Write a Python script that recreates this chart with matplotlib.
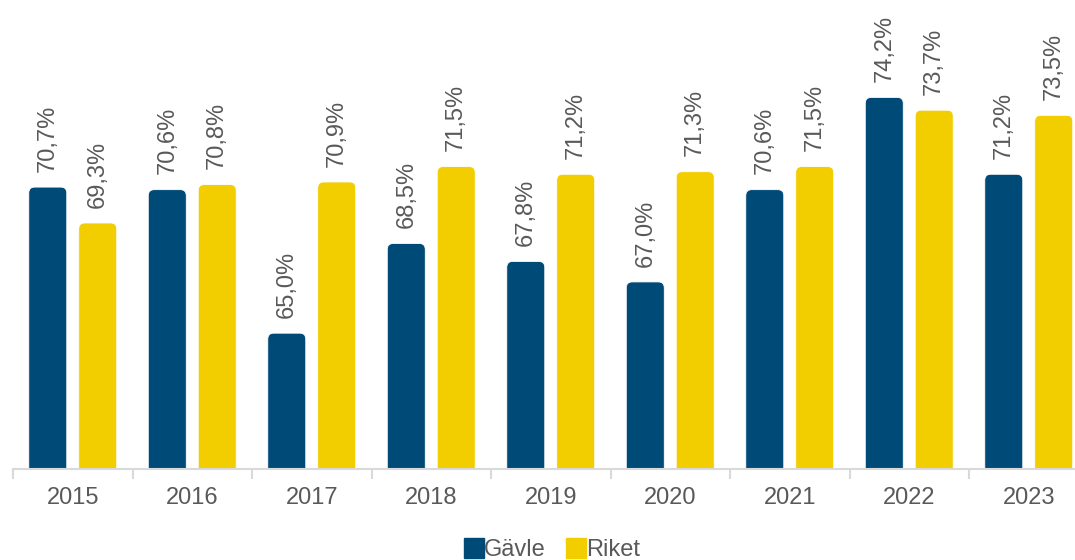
import matplotlib.pyplot as plt
import numpy as np
from matplotlib.patches import FancyBboxPatch
from matplotlib.lines import Line2D

plt.rcParams["font.family"] = ["Liberation Sans", "DejaVu Sans"]

years = ["2015", "2016", "2017", "2018", "2019", "2020", "2021", "2022", "2023"]
gavle = [70.7, 70.6, 65.0, 68.5, 67.8, 67.0, 70.6, 74.2, 71.2]
riket = [69.3, 70.8, 70.9, 71.5, 71.2, 71.3, 71.5, 73.7, 73.5]
series_names = ["Gävle", "Riket"]

BLUE = "#004a77"
YELLOW = "#f2cd00"
TEXT = "#595959"
AXIS = "#d9d9d9"

Y_MIN, Y_MAX = 59.7, 78.0

fig = plt.figure(figsize=(10.75, 5.6), dpi=100)
ax = fig.add_axes([13 / 1075, 91 / 560, 1075.5 / 1075, 469 / 560])

x = np.arange(len(years))
width = 0.318
offset = 0.209

# px per data unit, used to keep the corner rounding circular
px_x = 1075.5 / 9.0
px_y = 469 / (Y_MAX - Y_MIN)
aspect = px_x / px_y


def rounded_bars(xs, values, color):
    for xc, v in zip(xs, values):
        bottom = Y_MIN - 1.0
        patch = FancyBboxPatch(
            (xc - width / 2, bottom), width, v - bottom,
            boxstyle="round,pad=0,rounding_size=0.05",
            mutation_aspect=aspect,
            facecolor=color, edgecolor="white", linewidth=0.6,
            clip_on=True, zorder=2,
        )
        ax.add_patch(patch)
        ax.text(xc, v + 0.6, f"{v:.1f}%".replace(".", ","),
                rotation=90, ha="center", va="bottom",
                fontsize=17, color=TEXT, zorder=3)


rounded_bars(x - offset, gavle, BLUE)
rounded_bars(x + offset, riket, YELLOW)

ax.set_xlim(-0.5, len(years) - 0.5)
ax.set_ylim(Y_MIN, Y_MAX)

for side in ["top", "right", "left"]:
    ax.spines[side].set_visible(False)
ax.spines["bottom"].set_color(AXIS)
ax.spines["bottom"].set_linewidth(1.5)
ax.spines["bottom"].set_zorder(4)

ax.set_yticks([])
ax.set_xticks(x)
ax.set_xticklabels(years, fontsize=17, color=TEXT)
ax.tick_params(axis="x", which="major", length=0, pad=13)
ax.set_xticks(np.arange(-0.5, len(years)), minor=True)
ax.tick_params(axis="x", which="minor", length=7, width=1.5, color=AXIS)

handles = [
    Line2D([], [], marker="s", linestyle="none", markersize=15,
           markerfacecolor=BLUE, markeredgecolor=BLUE),
    Line2D([], [], marker="s", linestyle="none", markersize=15,
           markerfacecolor=YELLOW, markeredgecolor=YELLOW),
]
fig.legend(handles, series_names, loc="center", bbox_to_anchor=(0.514, 0.018),
           ncol=2, frameon=False, fontsize=17, labelcolor=TEXT,
           handlelength=0.75, handletextpad=0.05, columnspacing=0.9)

fig.savefig("out.png", dpi=100)
